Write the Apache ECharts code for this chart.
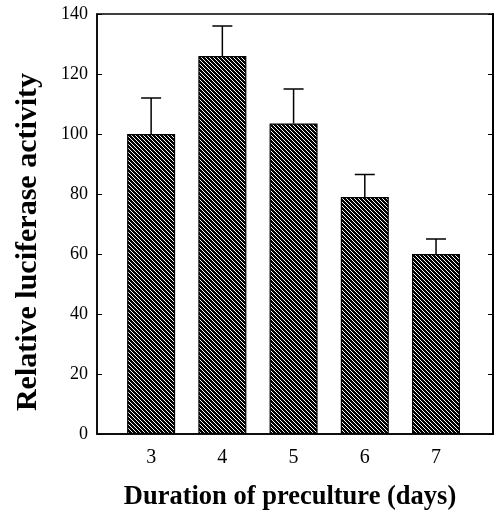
<!DOCTYPE html>
<html>
<head>
<meta charset="utf-8">
<script src="https://cdn.jsdelivr.net/npm/echarts@6/dist/echarts.min.js"></script>
<style>
  html, body { margin: 0; padding: 0; background: #fff; }
  #chart { width: 497px; height: 516px; }
</style>
</head>
<body>
<div id="chart"></div>
<script>
// 数据
var days = [3, 4, 5, 6, 7];
var activity = [100, 126, 103.5, 79, 60];
var errorTop = [112, 136, 115, 86.5, 65];
var yTicks = [0, 20, 40, 60, 80, 100, 120, 140];

// 斜线填充
function hatch() {
  var c = document.createElement('canvas');
  c.width = 4;
  c.height = 4;
  var ctx = c.getContext('2d');
  var img = ctx.createImageData(4, 4);
  for (var y = 0; y < 4; y++) {
    for (var x = 0; x < 4; x++) {
      var i = (y * 4 + x) * 4;
      var v = ((x - y + 4) % 4 === 0) ? 255 : 0;
      img.data[i] = v;
      img.data[i + 1] = v;
      img.data[i + 2] = v;
      img.data[i + 3] = 255;
    }
  }
  ctx.putImageData(img, 0, 0);
  return c;
}

var chart = echarts.init(document.getElementById('chart'));
var font = '"Liberation Serif", "Times New Roman", serif';

chart.setOption({
  animation: false,
  grid: {
    left: 97,
    right: 4,
    top: 14,
    bottom: 81,
    show: true,
    borderColor: '#000',
    borderWidth: 1.5
  },
  xAxis: {
    type: 'value',
    min: 2.24,
    max: 7.8,
    name: 'Duration of preculture (days)',
    nameLocation: 'middle',
    nameGap: 50,
    nameTextStyle: { fontFamily: font, fontSize: 26.5, fontWeight: 'bold', color: '#000', padding: [0, 10, 0, 0] },
    axisLine: { show: true, lineStyle: { color: '#000', width: 1.5 } },
    axisTick: { show: false },
    splitLine: { show: false },
    axisLabel: {
      customValues: days,
      margin: 14,
      fontFamily: font,
      fontSize: 20,
      color: '#000'
    }
  },
  yAxis: [
    {
      type: 'value',
      min: 0,
      max: 140,
      interval: 20,
      name: 'Relative luciferase activity',
      nameLocation: 'middle',
      nameRotate: 90,
      nameGap: 54,
      nameTextStyle: { fontFamily: font, fontSize: 30, fontWeight: 'bold', color: '#000', padding: [0, 36, 0, 0] },
      axisLine: { show: true, lineStyle: { color: '#000', width: 1.5 } },
      axisTick: { show: true, inside: true, length: 5, lineStyle: { color: '#000' } },
      splitLine: { show: false },
      axisLabel: {
        customValues: yTicks,
        margin: 9,
        fontFamily: font,
        fontSize: 18,
        color: '#000'
      }
    },
    {
      type: 'value',
      min: 0,
      max: 140,
      interval: 20,
      position: 'right',
      axisLine: { show: true, lineStyle: { color: '#000', width: 2 } },
      axisTick: { show: true, inside: true, length: 5, lineStyle: { color: '#000' } },
      splitLine: { show: false },
      axisLabel: { show: false }
    }
  ],
  series: [
    {
      type: 'bar',
      barWidth: 48,
      data: days.map(function (d, i) { return [d, activity[i]]; }),
      itemStyle: {
        color: { image: hatch(), repeat: 'repeat' },
        borderColor: '#000',
        borderWidth: 1.2
      }
    },
    {
      type: 'custom',
      data: days.map(function (d, i) { return [d, activity[i], errorTop[i]]; }),
      renderItem: function (params, api) {
        var base = api.coord([api.value(0), api.value(1)]);
        var top = api.coord([api.value(0), api.value(2)]);
        var half = 10;
        var style = { stroke: '#000', lineWidth: 1.5 };
        return {
          type: 'group',
          children: [
            { type: 'line', shape: { x1: base[0], y1: base[1], x2: top[0], y2: top[1] }, style: style },
            { type: 'line', shape: { x1: top[0] - half, y1: top[1], x2: top[0] + half, y2: top[1] }, style: style }
          ]
        };
      },
      z: 3
    }
  ]
});
</script>
</body>
</html>
